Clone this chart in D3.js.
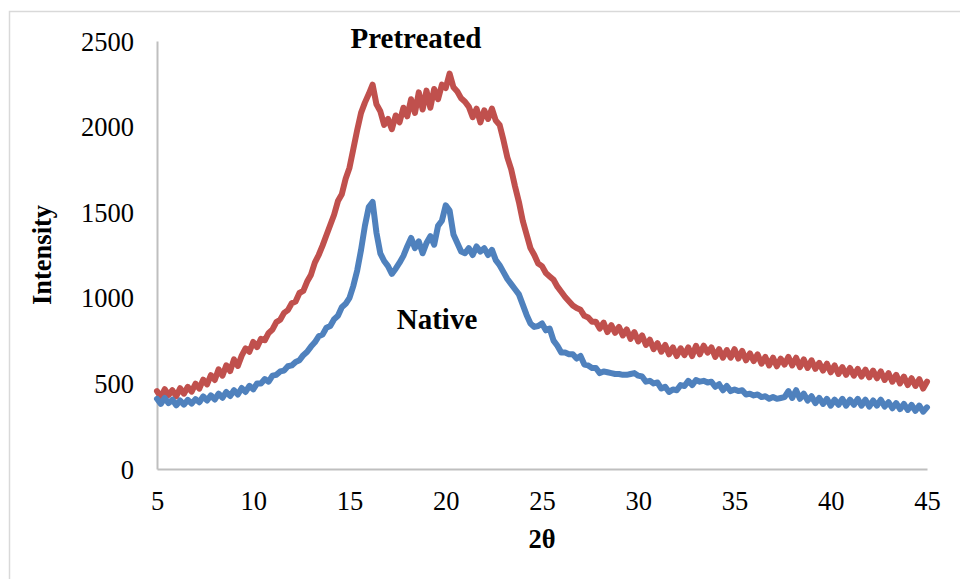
<!DOCTYPE html>
<html>
<head>
<meta charset="utf-8">
<script src="https://cdn.jsdelivr.net/npm/d3@7"></script>
<style>
  html, body { margin: 0; padding: 0; background: #fff; }
  svg { display: block; }
  text { font-family: "Liberation Serif", "Times New Roman", serif; fill: #000; }
</style>
</head>
<body>
<svg id="chart" width="960" height="579"></svg>
<script>
// 2θ scan: 5° to 45°, one reading every 0.2°
const scanStart = 5;
const scanStep = 0.2;

// Pretreated sample intensity (counts), ten readings per row = 2° per row
const pretreated = [
  455,420,466,432,460,425,472,440,480,452,
  498,470,522,494,548,520,582,545,606,572,
  640,602,662,705,685,742,712,760,752,795,
  815,858,872,912,928,968,978,1028,1040,1095,
  1135,1205,1250,1305,1365,1425,1485,1565,1605,1695,
  1760,1870,1980,2080,2140,2190,2245,2130,2090,2010,
  2045,1985,2065,2025,2110,2060,2160,2080,2200,2100,
  2210,2110,2220,2160,2245,2225,2310,2230,2205,2165,
  2145,2115,2055,2105,2025,2095,2045,2105,2035,2010,
  1920,1820,1750,1650,1560,1450,1370,1290,1250,1200,
  1185,1145,1125,1105,1065,1035,1005,980,955,940,
  930,895,885,860,860,820,855,800,840,795,
  830,780,815,760,800,745,780,725,755,700,
  735,685,725,670,710,660,705,665,710,660,
  720,670,720,680,710,655,700,650,695,650,
  700,645,690,635,675,630,670,615,655,605,
  650,600,645,610,655,605,650,595,640,590,
  635,585,620,575,615,565,605,555,595,550,
  590,545,585,540,580,535,575,530,570,520,
  560,510,550,500,540,490,530,485,525,470,
  510
];

// Native sample intensity (counts), same scan grid
const native = [
  410,380,415,385,405,372,400,376,404,382,
  408,390,424,400,430,406,440,416,450,426,
  460,435,473,450,486,465,500,500,525,510,
  545,550,570,575,600,605,625,635,665,685,
  715,740,775,785,825,835,875,895,945,965,
  1000,1070,1160,1280,1420,1530,1560,1380,1260,1215,
  1185,1140,1170,1205,1245,1300,1350,1290,1330,1260,
  1320,1360,1310,1420,1450,1540,1510,1370,1320,1270,
  1260,1290,1250,1300,1270,1290,1250,1280,1220,1190,
  1150,1110,1080,1050,1020,960,900,850,830,835,
  850,810,820,750,720,680,680,670,670,645,
  660,610,605,590,590,560,570,565,560,555,
  555,550,550,555,560,545,540,510,515,500,
  505,470,480,450,465,460,490,485,515,490,
  520,510,515,505,510,480,495,460,485,455,
  465,455,460,435,440,430,435,420,425,410,
  420,410,415,420,455,415,460,410,440,400,
  425,385,415,380,410,370,405,375,410,370,
  405,375,410,370,405,365,400,370,405,365,
  390,355,385,350,380,345,375,340,370,335,
  360
];

const xTicks = [5, 10, 15, 20, 25, 30, 35, 40, 45];
const yTicks = [0, 500, 1000, 1500, 2000, 2500];

const seriesNames = ["Pretreated", "Native"];
const seriesColors = ["#C0504D", "#4F81BD"];

const svg = d3.select("#chart");

// outer chart-area frame
svg.append("rect")
  .attr("x", 9.5).attr("y", 11.5)
  .attr("width", 1000).attr("height", 700)
  .attr("fill", "none")
  .attr("stroke", "#d9d9d9")
  .attr("stroke-width", 1.5);

const plot = { left: 157, right: 927, top: 41, bottom: 469 };

const x = d3.scaleLinear().domain([5, 45]).range([plot.left, plot.right]);
const y = d3.scaleLinear().domain([0, 2500]).range([plot.bottom, plot.top]);

// axes: bare lines with labels, no tick marks
const xAxis = d3.axisBottom(x).tickValues(xTicks).tickSize(0).tickPadding(23)
  .tickFormat(d3.format("d"));
const yAxis = d3.axisLeft(y).tickValues(yTicks).tickSize(0).tickPadding(23)
  .tickFormat(d3.format("d"));

const gx = svg.append("g").attr("transform", `translate(0,${plot.bottom})`).call(xAxis);
const gy = svg.append("g").attr("transform", `translate(${plot.left},0)`).call(yAxis);

[gx, gy].forEach(g => {
  g.select(".domain").attr("stroke", "#bfbfbf").attr("stroke-width", 2);
  g.selectAll("text")
    .attr("font-family", "'Liberation Serif', 'Times New Roman', serif")
    .attr("font-size", 26.5)
    .attr("fill", "#000");
});
gx.selectAll("text").attr("dy", null).attr("y", 41);
gy.selectAll("text").attr("dy", "0.34em");

// data lines
const series = [pretreated, native].map((vals, k) => ({
  name: seriesNames[k],
  color: seriesColors[k],
  points: vals.map((v, i) => [scanStart + i * scanStep, v])
}));

const line = d3.line()
  .x(d => x(d[0]))
  .y(d => y(d[1]));

svg.append("g")
  .selectAll("path")
  .data(series)
  .join("path")
  .attr("d", d => line(d.points))
  .attr("fill", "none")
  .attr("stroke", d => d.color)
  .attr("stroke-width", 6)
  .attr("stroke-linejoin", "round")
  .attr("stroke-linecap", "round");

// series labels
svg.append("text")
  .attr("x", 416).attr("y", 48)
  .attr("text-anchor", "middle")
  .attr("font-weight", "bold")
  .attr("font-size", 29)
  .text("Pretreated");

svg.append("text")
  .attr("x", 437).attr("y", 329)
  .attr("text-anchor", "middle")
  .attr("font-weight", "bold")
  .attr("font-size", 29)
  .text("Native");

// axis titles
svg.append("text")
  .attr("x", (plot.left + plot.right) / 2).attr("y", 548)
  .attr("text-anchor", "middle")
  .attr("font-weight", "bold")
  .attr("font-size", 26.5)
  .text("2θ");

svg.append("text")
  .attr("transform", `translate(51,${(plot.top + plot.bottom) / 2}) rotate(-90)`)
  .attr("text-anchor", "middle")
  .attr("font-weight", "bold")
  .attr("font-size", 26.5)
  .text("Intensity");
</script>
</body>
</html>
